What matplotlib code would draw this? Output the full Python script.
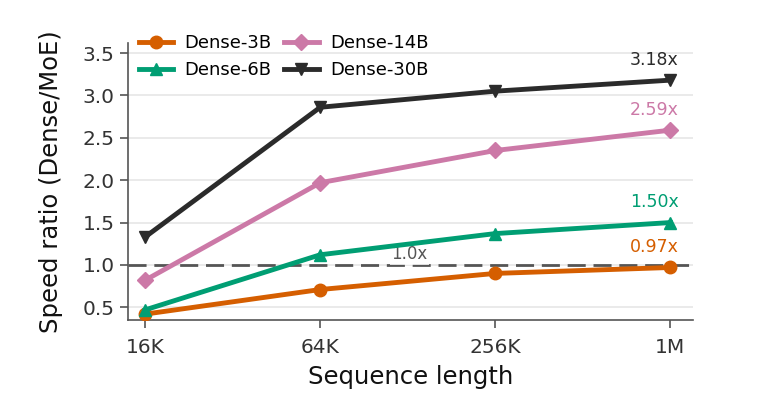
import matplotlib
matplotlib.use("Agg")
import matplotlib.pyplot as plt

seq_labels = ["16K", "64K", "256K", "1M"]
series_names = ["Dense-3B", "Dense-6B", "Dense-14B", "Dense-30B"]
dense_3b = [0.42, 0.71, 0.90, 0.97]
dense_6b = [0.47, 1.12, 1.37, 1.50]
dense_14b = [0.82, 1.97, 2.35, 2.59]
dense_30b = [1.33, 2.86, 3.05, 3.18]
colors = ["#d55e00", "#009e73", "#cc79a7", "#2b2b2b"]
markers = ["o", "^", "D", "v"]

plt.rcParams["font.family"] = ["DejaVu Sans"]
fig = plt.figure(figsize=(7.6, 4.2), dpi=100)
ax = fig.add_axes([0.168, 0.238, 0.744, 0.66])

x = list(range(len(seq_labels)))
all_series = [dense_3b, dense_6b, dense_14b, dense_30b]
msizes = [9, 9, 8, 9]
for name, vals, c, m, ms in zip(series_names, all_series, colors, markers, msizes):
    ax.plot(x, vals, color=c, marker=m, lw=3.5, ms=ms, label=name, zorder=3)
    ax.annotate(f"{vals[-1]:.2f}x", (x[-1], vals[-1]), xytext=(6, 8),
                textcoords="offset points", ha="right", va="bottom",
                color=c, fontsize=12.5)

ax.axhline(1.0, color="#555555", lw=2, ls=(0, (6.5, 2.8)), zorder=2)
ax.text(1.51, 1.02, "1.0x", color="#555555", fontsize=12, ha="center", va="bottom",
        bbox=dict(facecolor="white", edgecolor="none", alpha=0.8, pad=1), zorder=2.5)

ax.set_xlim(-0.1, 3.13)
ax.set_ylim(0.35, 3.62)
ax.set_xticks(x)
ax.set_xticklabels(seq_labels)
ax.set_yticks([0.5, 1.0, 1.5, 2.0, 2.5, 3.0, 3.5])
ax.tick_params(labelsize=14.5, colors="#333333", length=6, width=1.2)
ax.tick_params(axis="x", pad=7)
ax.tick_params(axis="both", color="#555555")
ax.grid(axis="y", color="#e6e6e6", lw=1.2, zorder=0)
ax.set_axisbelow(True)
for s in ["top", "right"]:
    ax.spines[s].set_visible(False)
for s in ["left", "bottom"]:
    ax.spines[s].set_color("#555555")
    ax.spines[s].set_linewidth(1.2)

ax.set_xlabel("Sequence length", fontsize=17.5, color="#111111", labelpad=6)
ax.set_ylabel("Speed ratio (Dense/MoE)", fontsize=17.5, color="#111111", labelpad=14)

ax.legend(loc="upper left", ncol=2, frameon=False, fontsize=13,
          bbox_to_anchor=(0.0, 1.07), handlelength=1.9, columnspacing=0.7,
          labelspacing=0.5, handletextpad=0.65, borderaxespad=0.2)

fig.savefig("out.png", dpi=100)
